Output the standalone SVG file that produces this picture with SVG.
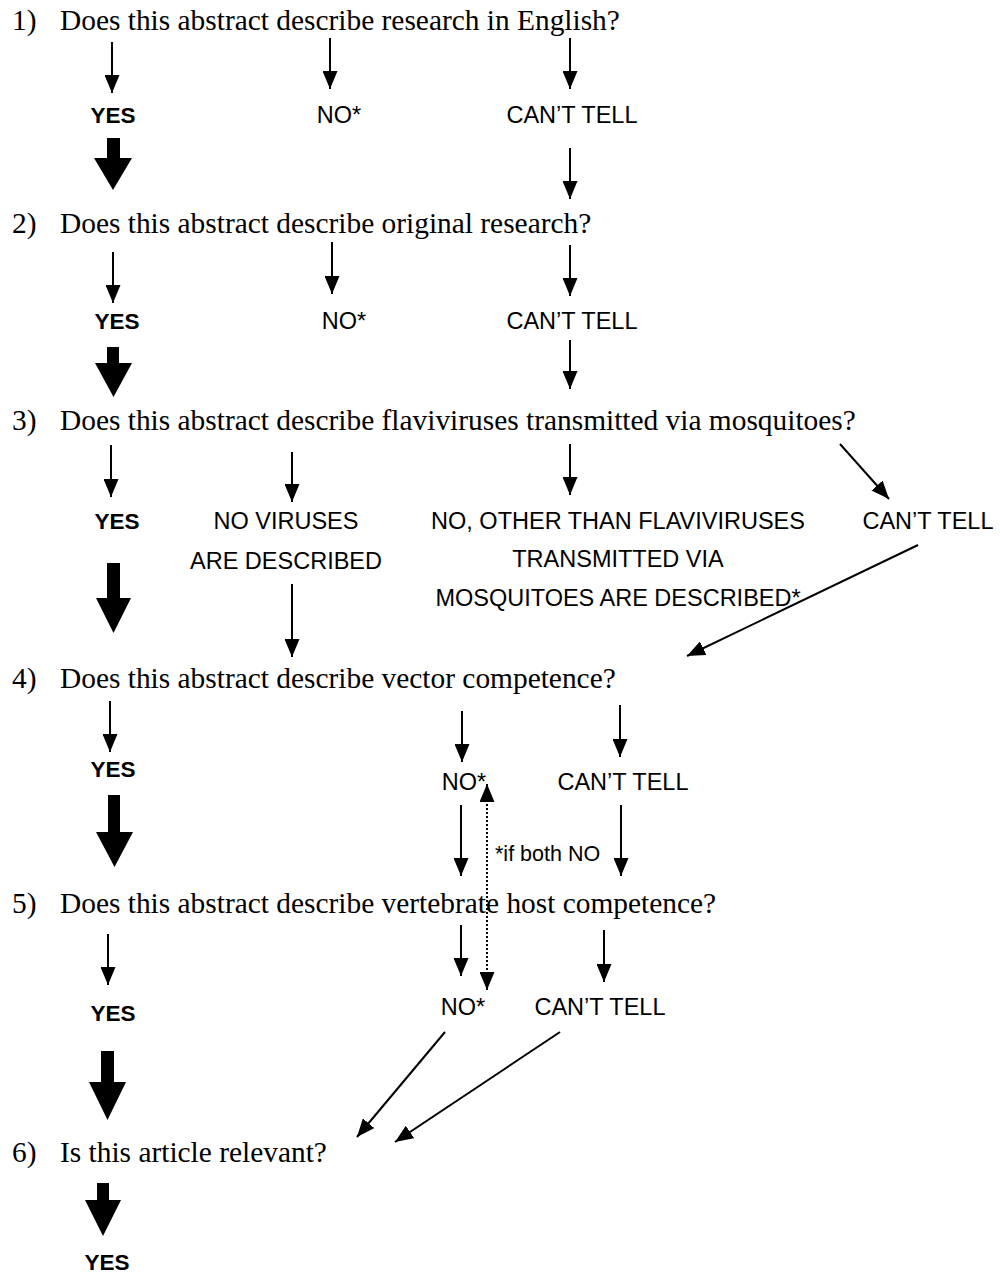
<svg xmlns="http://www.w3.org/2000/svg" width="1000" height="1276" viewBox="0 0 1000 1276">
<defs>
<style>
.q{font-family:"Liberation Serif","Times New Roman",serif;font-size:29.4px;fill:#000}
.l{font-family:"Liberation Sans",Arial,sans-serif;font-size:23.5px;fill:#000;text-anchor:middle}
.b{font-weight:bold;font-size:22.5px}
.s{font-family:"Liberation Sans",Arial,sans-serif;font-size:21.5px;fill:#000}
.a{stroke:#000;stroke-width:2;fill:none;marker-end:url(#ah)}
.d{stroke:#000;stroke-width:2;fill:none;stroke-dasharray:2,2;marker-end:url(#ah);marker-start:url(#ah)}
.t{fill:#000}
</style>
<marker id="ah" markerUnits="userSpaceOnUse" viewBox="0 0 18 15" refX="18" refY="7.5" markerWidth="18" markerHeight="15" orient="auto-start-reverse">
<path d="M0,0 L18,7.5 L0,15 z" fill="#000"/>
</marker>
</defs>
<rect width="1000" height="1276" fill="#fff"/>

<g id="q1"><text class="q" x="12" y="30">1)</text><text class="q" x="60" y="30">Does this abstract describe research in English?</text></g>
<g id="q1-yes"><text class="l b" x="113" y="123">YES</text></g>
<g id="q1-no"><text class="l" x="339" y="123">NO*</text></g>
<g id="q1-cant"><text class="l" x="572" y="123">CAN’T TELL</text></g>

<g id="q2"><text class="q" x="12" y="233">2)</text><text class="q" x="60" y="233">Does this abstract describe original research?</text></g>
<g id="q2-yes"><text class="l b" x="117" y="329">YES</text></g>
<g id="q2-no"><text class="l" x="344" y="329">NO*</text></g>
<g id="q2-cant"><text class="l" x="572" y="329">CAN’T TELL</text></g>

<g id="q3"><text class="q" x="12" y="430">3)</text><text class="q" x="60" y="430">Does this abstract describe flaviviruses transmitted via mosquitoes?</text></g>
<g id="q3-yes"><text class="l b" x="117" y="529">YES</text></g>
<g id="q3-novir"><text class="l" x="286" y="529">NO VIRUSES</text><text class="l" x="286" y="569">ARE DESCRIBED</text></g>
<g id="q3-other"><text class="l" x="618" y="529">NO, OTHER THAN FLAVIVIRUSES</text><text class="l" x="618" y="567">TRANSMITTED VIA</text><text class="l" x="618" y="606">MOSQUITOES ARE DESCRIBED*</text></g>
<g id="q3-cant"><text class="l" x="928" y="529">CAN’T TELL</text></g>

<g id="q4"><text class="q" x="12" y="688">4)</text><text class="q" x="60" y="688">Does this abstract describe vector competence?</text></g>
<g id="q4-yes"><text class="l b" x="113" y="777">YES</text></g>
<g id="q4-no"><text class="l" x="464" y="790">NO*</text></g>
<g id="q4-cant"><text class="l" x="623" y="790">CAN’T TELL</text></g>
<g id="note"><text class="s" x="495" y="861">*if both NO</text></g>

<g id="q5"><text class="q" x="12" y="913">5)</text><text class="q" x="60" y="913">Does this abstract describe vertebrate host competence?</text></g>
<g id="q5-yes"><text class="l b" x="113" y="1021">YES</text></g>
<g id="q5-no"><text class="l" x="463" y="1015">NO*</text></g>
<g id="q5-cant"><text class="l" x="600" y="1015">CAN’T TELL</text></g>

<g id="q6"><text class="q" x="12" y="1162">6)</text><text class="q" x="60" y="1162">Is this article relevant?</text></g>
<g id="q6-yes"><text class="l b" x="107" y="1270">YES</text></g>

<g id="connectors">
<line class="a" x1="112" y1="42" x2="112" y2="93"/>
<line class="a" x1="330" y1="38" x2="330" y2="89"/>
<line class="a" x1="570" y1="38" x2="570" y2="89"/>
<line class="a" x1="570" y1="148" x2="570" y2="199"/>
<polygon class="t" points="107,138 120,138 120,158 132,158 113,190 94,158 107,158"/>

<line class="a" x1="113" y1="252" x2="113" y2="303"/>
<line class="a" x1="332" y1="242" x2="332" y2="294"/>
<line class="a" x1="570" y1="245" x2="570" y2="296"/>
<line class="a" x1="570" y1="340" x2="570" y2="389"/>
<polygon class="t" points="107,347 119,347 119,363 132,363 113.5,397 95,363 107,363"/>

<line class="a" x1="111" y1="445" x2="111" y2="497"/>
<line class="a" x1="292" y1="452" x2="292" y2="502"/>
<line class="a" x1="570" y1="444" x2="570" y2="495"/>
<line class="a" x1="840" y1="444" x2="889" y2="499"/>
<line class="a" x1="292" y1="584" x2="292" y2="657"/>
<line class="a" x1="918" y1="545" x2="687" y2="656"/>
<polygon class="t" points="107,563 120,563 120,598 131,598 113.5,633 96,598 107,598"/>

<line class="a" x1="110" y1="701" x2="110" y2="752"/>
<line class="a" x1="462" y1="711" x2="462" y2="762"/>
<line class="a" x1="620" y1="705" x2="620" y2="757"/>
<line class="a" x1="461" y1="805" x2="461" y2="876"/>
<line class="a" x1="621" y1="805" x2="621" y2="876"/>
<polygon class="t" points="108,795 120,795 120,832 133,832 114.5,867 96,832 108,832"/>
<line class="d" x1="487" y1="990" x2="487" y2="784"/>

<line class="a" x1="108" y1="934" x2="108" y2="985"/>
<line class="a" x1="461" y1="925" x2="461" y2="976"/>
<line class="a" x1="604" y1="930" x2="604" y2="982"/>
<line class="a" x1="445" y1="1032" x2="357" y2="1137"/>
<line class="a" x1="560" y1="1032" x2="395" y2="1142"/>
<polygon class="t" points="101,1051 114,1051 114,1082 126,1082 107.5,1120 89,1082 101,1082"/>

<polygon class="t" points="97,1183 109,1183 109,1200 121,1200 103,1236 85,1200 97,1200"/>
</g>
</svg>
